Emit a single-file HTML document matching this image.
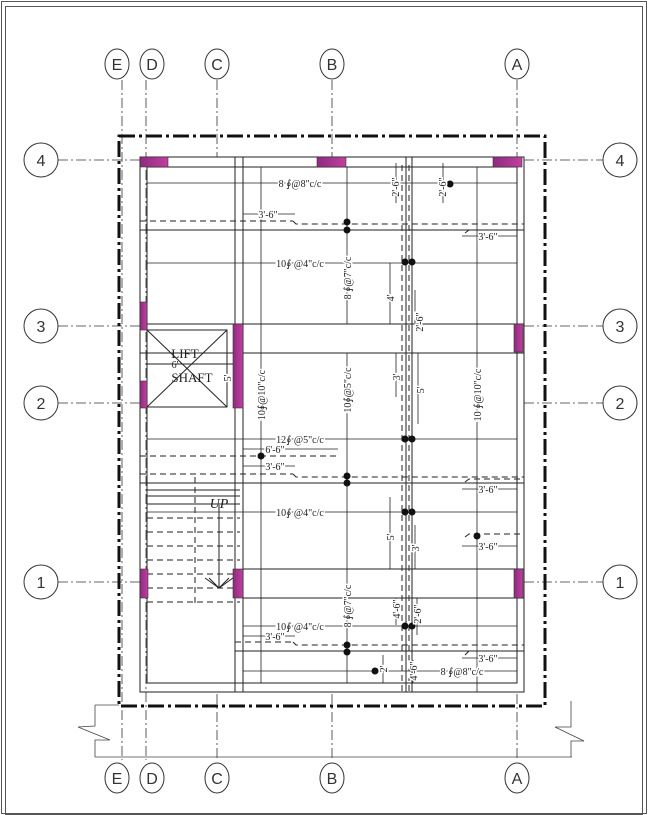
<!DOCTYPE html>
<html><head><meta charset="utf-8"><style>
html,body{margin:0;padding:0;background:#fff}
svg{display:block}
text{font-family:"Liberation Serif",serif;font-size:10px;fill:#222}
.g{font-family:"Liberation Sans",sans-serif;font-size:16px;fill:#333}
</style></head><body>
<svg width="648" height="815" viewBox="0 0 648 815" xmlns="http://www.w3.org/2000/svg">
<defs><linearGradient id="m" x1="0" x2="1"><stop offset="0" stop-color="#8f2a80"/><stop offset="1" stop-color="#c040a0"/></linearGradient></defs>
<!-- frame -->
<rect x="1.5" y="1.5" width="645" height="812" fill="none" stroke="#555" stroke-width="1"/>
<rect x="5.5" y="6.5" width="637" height="808" fill="none" stroke="#555" stroke-width="1"/>
<g stroke="#333" stroke-width="0.8" fill="none" stroke-dasharray="10,3,2,3">
<!-- grid columns -->
<line x1="122" y1="80" x2="122" y2="760"/><line x1="146" y1="80" x2="146" y2="760"/>
<line x1="217" y1="80" x2="217" y2="157"/><line x1="217" y1="694" x2="217" y2="760"/>
<line x1="332" y1="80" x2="332" y2="157"/><line x1="332" y1="694" x2="332" y2="760"/>
<line x1="517" y1="80" x2="517" y2="157"/><line x1="517" y1="694" x2="517" y2="760"/>
<!-- grid rows -->
<line x1="58" y1="160" x2="140" y2="160"/><line x1="524" y1="160" x2="603" y2="160"/>
<line x1="58" y1="326" x2="140" y2="326"/><line x1="524" y1="326" x2="603" y2="326"/>
<line x1="58" y1="403" x2="140" y2="403"/><line x1="524" y1="403" x2="603" y2="403"/>
<line x1="58" y1="582" x2="140" y2="582"/><line x1="524" y1="582" x2="603" y2="582"/>
</g>
<!-- bubbles -->
<g stroke="#333" stroke-width="1" fill="#fff">
<ellipse cx="117" cy="64" rx="12" ry="15"/><ellipse cx="152" cy="64" rx="12" ry="15"/>
<ellipse cx="217" cy="64" rx="12" ry="15"/><ellipse cx="332" cy="64" rx="12" ry="15"/>
<ellipse cx="517" cy="64" rx="12" ry="15"/>
<ellipse cx="117" cy="778" rx="12" ry="15"/><ellipse cx="152" cy="778" rx="12" ry="15"/>
<ellipse cx="217" cy="778" rx="12" ry="15"/><ellipse cx="332" cy="778" rx="12" ry="15"/>
<ellipse cx="517" cy="778" rx="12" ry="15"/>
<circle cx="41" cy="160" r="17"/><circle cx="620" cy="160" r="17"/>
<circle cx="41" cy="326" r="17"/><circle cx="620" cy="326" r="17"/>
<circle cx="41" cy="403" r="17"/><circle cx="620" cy="403" r="17"/>
<circle cx="41" cy="582" r="17"/><circle cx="620" cy="582" r="17"/>
</g>
<g class="g" text-anchor="middle">
<text class="g" x="117" y="70">E</text><text class="g" x="152" y="70">D</text><text class="g" x="217" y="70">C</text><text class="g" x="332" y="70">B</text><text class="g" x="517" y="70">A</text>
<text class="g" x="117" y="784">E</text><text class="g" x="152" y="784">D</text><text class="g" x="217" y="784">C</text><text class="g" x="332" y="784">B</text><text class="g" x="517" y="784">A</text>
<text class="g" x="41" y="166">4</text><text class="g" x="620" y="166">4</text>
<text class="g" x="41" y="332">3</text><text class="g" x="620" y="332">3</text>
<text class="g" x="41" y="409">2</text><text class="g" x="620" y="409">2</text>
<text class="g" x="41" y="588">1</text><text class="g" x="620" y="588">1</text>
</g>
<!-- bottom dimension & break lines -->
<g stroke="#444" stroke-width="0.8" fill="none">
<line x1="95" y1="757" x2="572" y2="757"/>
<polyline points="95,705 95,726 78,727 110,740 95,740 95,757"/>
<polyline points="571,701 571,727 555,727 584,741 571,741 571,757"/>
<line x1="95" y1="705" x2="119" y2="705"/>
</g>
<!-- thick dash-dot boundary -->
<rect x="119" y="136" width="426" height="570" fill="none" stroke="#111" stroke-width="3" stroke-dasharray="16,4,3,4"/>
<!-- slab outlines -->
<g stroke="#222" stroke-width="1" fill="none">
<rect x="140" y="157" width="384" height="535"/>
<rect x="147" y="167" width="370" height="516"/>
<line x1="235" y1="157" x2="235" y2="692"/><line x1="243" y1="157" x2="243" y2="692"/>
<line x1="406" y1="157" x2="406" y2="692"/><line x1="412" y1="157" x2="412" y2="692"/>
<!-- horizontal lines -->
<line x1="140" y1="230" x2="524" y2="230"/>
<line x1="140" y1="324" x2="524" y2="324"/><line x1="140" y1="353" x2="524" y2="353"/>
<line x1="140" y1="483" x2="524" y2="483"/>
<line x1="243" y1="569" x2="524" y2="569"/><line x1="243" y1="598" x2="524" y2="598"/>
<line x1="235" y1="651" x2="524" y2="651"/>
<!-- lift -->
<rect x="147" y="330" width="80" height="77"/>
<line x1="147" y1="330" x2="227" y2="407"/><line x1="227" y1="330" x2="147" y2="407"/>
<line x1="147" y1="364" x2="233" y2="364"/><line x1="227" y1="330" x2="227" y2="407"/>
<!-- stair -->
<line x1="147" y1="490" x2="240" y2="490"/><line x1="147" y1="496" x2="240" y2="496"/>
<line x1="147" y1="504" x2="240" y2="504"/>
<line x1="219" y1="505" x2="219" y2="588"/>
<polyline points="205,578 219,588 233,578"/><polyline points="209,578 219,588 229,578"/>
</g>
<g stroke="#222" stroke-width="1" fill="none" stroke-dasharray="6,4">
<line x1="140" y1="221" x2="293" y2="221"/><polyline points="293,221 296,224 524,224"/>
<line x1="402" y1="165" x2="402" y2="692"/><line x1="409" y1="165" x2="409" y2="692"/>
<line x1="140" y1="456" x2="338" y2="456"/>
<line x1="140" y1="474" x2="293" y2="474"/><polyline points="293,474 296,477 524,477"/>
<polyline points="465,482 469,479 524,479"/><polyline points="465,537 469,534 524,534"/>
<polyline points="465,655 469,651 524,651"/><polyline points="465,233 469,230 524,230"/>
<line x1="235" y1="642" x2="293" y2="642"/><polyline points="293,642 296,645 524,645"/>
<line x1="195" y1="477" x2="195" y2="605"/>
<line x1="147" y1="518" x2="240" y2="518"/><line x1="147" y1="532" x2="240" y2="532"/>
<line x1="147" y1="546" x2="240" y2="546"/><line x1="147" y1="560" x2="240" y2="560"/>
<line x1="147" y1="574" x2="240" y2="574"/><line x1="147" y1="588" x2="240" y2="588"/>
<line x1="147" y1="602" x2="240" y2="602"/>
</g>
<!-- dimension lines -->
<g stroke="#222" stroke-width="0.8" fill="none">
<line x1="147" y1="183" x2="517" y2="183"/>
<line x1="147" y1="263" x2="517" y2="263"/>
<line x1="147" y1="439" x2="517" y2="439"/>
<line x1="147" y1="512" x2="517" y2="512"/>
<line x1="243" y1="626" x2="517" y2="626"/>
<line x1="243" y1="671" x2="517" y2="671"/>
<line x1="243" y1="214" x2="295" y2="214"/><line x1="243" y1="449" x2="338" y2="449"/>
<line x1="243" y1="466" x2="295" y2="466"/><line x1="243" y1="636" x2="295" y2="636"/>
<line x1="462" y1="236" x2="517" y2="236"/><line x1="462" y1="489" x2="517" y2="489"/>
<line x1="462" y1="546" x2="517" y2="546"/><line x1="462" y1="658" x2="517" y2="658"/>
<line x1="261" y1="167" x2="261" y2="683"/>
<line x1="347" y1="167" x2="347" y2="324"/><line x1="347" y1="353" x2="347" y2="483"/>
<line x1="347" y1="483" x2="347" y2="683"/>
<line x1="477" y1="167" x2="477" y2="692"/>
<line x1="390" y1="263" x2="390" y2="324"/><line x1="418" y1="353" x2="418" y2="424"/>
<line x1="396" y1="353" x2="396" y2="397"/><line x1="390" y1="497" x2="390" y2="569"/>
<line x1="415" y1="525" x2="415" y2="569"/><line x1="396" y1="598" x2="396" y2="625"/>
<line x1="417" y1="598" x2="417" y2="635"/><line x1="383" y1="655" x2="383" y2="683"/>
<line x1="396" y1="163" x2="396" y2="203"/><line x1="443" y1="163" x2="443" y2="203"/>
<line x1="415" y1="290" x2="415" y2="324"/><line x1="413" y1="660" x2="413" y2="683"/>
</g>
<!-- dots -->
<g fill="#111">
<circle cx="347" cy="222" r="3.5"/><circle cx="347" cy="230" r="3.5"/>
<circle cx="405" cy="262" r="3.5"/><circle cx="412" cy="262" r="3.5"/>
<circle cx="450" cy="184" r="3.5"/>
<circle cx="405" cy="439" r="3.5"/><circle cx="412" cy="439" r="3.5"/>
<circle cx="261" cy="456" r="3.5"/>
<circle cx="347" cy="476" r="3.5"/><circle cx="347" cy="483" r="3.5"/>
<circle cx="405" cy="512" r="3.5"/><circle cx="412" cy="512" r="3.5"/>
<circle cx="477" cy="536" r="3.5"/>
<circle cx="405" cy="626" r="3.5"/><circle cx="412" cy="626" r="3.5"/>
<circle cx="347" cy="645" r="3.5"/><circle cx="347" cy="652" r="3.5"/>
<circle cx="375" cy="671" r="3.5"/>
</g>
<!-- columns -->
<g fill="url(#m)" stroke="#333" stroke-width="0.6">
<rect x="140" y="157" width="28" height="10"/><rect x="317" y="157" width="29" height="10"/><rect x="493" y="157" width="29" height="10"/>
<rect x="140" y="302" width="7" height="28"/><rect x="140" y="381" width="7" height="27"/>
<rect x="233" y="324" width="10" height="84"/>
<rect x="514" y="324" width="9" height="28"/>
<rect x="140" y="569" width="8" height="29"/><rect x="233" y="569" width="10" height="29"/>
<rect x="514" y="569" width="9" height="29"/>
</g>
<!-- labels -->
<g text-anchor="middle">
<text x="300" y="187" style="fill:#222;stroke:#fff;stroke-width:3;paint-order:stroke">8 ∮@8"c/c</text>
<text x="300" y="267" style="stroke:#fff;stroke-width:3;paint-order:stroke">10∮ @4"c/c</text>
<text x="300" y="443" style="stroke:#fff;stroke-width:3;paint-order:stroke">12∮ @5"c/c</text>
<text x="300" y="516" style="stroke:#fff;stroke-width:3;paint-order:stroke">10∮ @4"c/c</text>
<text x="300" y="630" style="stroke:#fff;stroke-width:3;paint-order:stroke">10∮ @4"c/c</text>
<text x="462" y="675" style="stroke:#fff;stroke-width:3;paint-order:stroke">8 ∮@8"c/c</text>
<text x="268" y="218" style="stroke:#fff;stroke-width:3;paint-order:stroke">3'-6"</text>
<text x="275" y="453" style="stroke:#fff;stroke-width:3;paint-order:stroke">6'-6"</text>
<text x="275" y="470" style="stroke:#fff;stroke-width:3;paint-order:stroke">3'-6"</text>
<text x="275" y="640" style="stroke:#fff;stroke-width:3;paint-order:stroke">3'-6"</text>
<text x="488" y="240" style="stroke:#fff;stroke-width:3;paint-order:stroke">3'-6"</text>
<text x="488" y="493" style="stroke:#fff;stroke-width:3;paint-order:stroke">3'-6"</text>
<text x="488" y="550" style="stroke:#fff;stroke-width:3;paint-order:stroke">3'-6"</text>
<text x="488" y="662" style="stroke:#fff;stroke-width:3;paint-order:stroke">3'-6"</text>
<text x="185" y="358" style="font-size:13px">LIFT</text>
<text x="175" y="368">6'</text>
<text x="192" y="382" style="font-size:13px">SHAFT</text>
<text x="219" y="508" style="font-size:14px;font-style:italic">UP</text>
</g>
<g text-anchor="middle" style="stroke:#fff;stroke-width:3;paint-order:stroke">
<text transform="translate(265,395) rotate(-90)">10∮@10"c/c</text>
<text transform="translate(351,390) rotate(-90)">10∮@5"c/c</text>
<text transform="translate(351,278) rotate(-90)">8 ∮@7"c/c</text>
<text transform="translate(351,606) rotate(-90)">8 ∮@7"c/c</text>
<text transform="translate(481,395) rotate(-90)">10 ∮@10"c/c</text>
<text transform="translate(231,378) rotate(-90)">5'</text>
<text transform="translate(399,187) rotate(-90)">2'-6"</text>
<text transform="translate(446,187) rotate(-90)">2'-6"</text>
<text transform="translate(394,298) rotate(-90)">4'</text>
<text transform="translate(423,322) rotate(-90)">2'-6"</text>
<text transform="translate(400,377) rotate(-90)">3'</text>
<text transform="translate(424,390) rotate(-90)">5'</text>
<text transform="translate(394,537) rotate(-90)">5'</text>
<text transform="translate(419,548) rotate(-90)">3'</text>
<text transform="translate(400,609) rotate(-90)">4'-6"</text>
<text transform="translate(421,614) rotate(-90)">2'-6"</text>
<text transform="translate(387,669) rotate(-90)">2'</text>
<text transform="translate(417,671) rotate(-90)">4'-6"</text>
</g>
</svg>
</body></html>
